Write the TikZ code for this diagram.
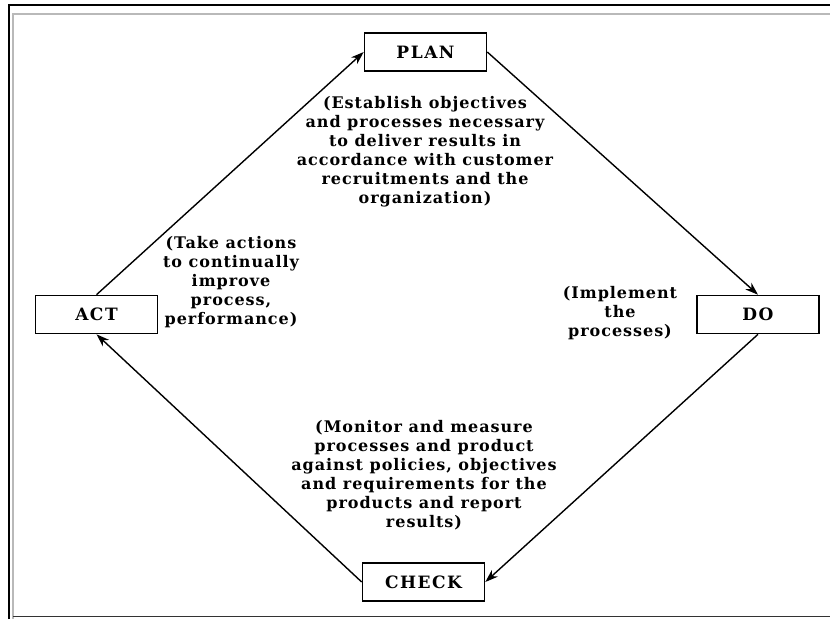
\documentclass[tikz,border=0pt]{standalone}
\usepackage{fontspec}
\usetikzlibrary{arrows.meta}
\newfontfamily\bodyfont[LetterSpace=6]{DejaVu Serif}
\newfontfamily\labelfont[LetterSpace=9]{DejaVu Serif}
\begin{document}
\begin{tikzpicture}[x=1pt,y=-1pt,
  stagebox/.style={draw,line width=1.6pt,minimum width=122pt,minimum height=38pt,
    inner sep=0pt,font=\labelfont\bfseries\fontsize{17}{17}\selectfont},
  note/.style={align=center,inner sep=0pt,
    font=\bodyfont\bfseries\fontsize{16}{19}\selectfont},
  flow/.style={line width=1.4pt,-{Stealth[length=13pt,width=9pt]}}]
\useasboundingbox (0,0) rectangle (830,619);
% page frame
\draw[line width=1.8pt] (9,619) -- (9,5) -- (830,5);
\draw[line width=1.6pt,gray!55] (13,619) -- (13,14) -- (830,14);
\draw[line width=1pt,black!80] (13,616) -- (830,616);
% stages of the cycle
\node[stagebox] (plan)  at (425.5,52)  {PLAN};
\node[stagebox] (act)   at (96.5,314.5) {ACT};
\node[stagebox] (do)    at (758,314.5) {DO};
\node[stagebox] (check) at (423.5,582) {CHECK};
% cycle arrows
\draw[flow] (act.north) -- (plan.west);
\draw[flow] (plan.east) -- (do.north);
\draw[flow] (do.south) -- (check.east);
\draw[flow] (check.west) -- (act.south);
% descriptions
\node[note] (plantext) at (425,152) {(Establish objectives\\and processes necessary\\to deliver results in\\accordance with customer\\recruitments and the\\organization)};
\node[note] (acttext) at (231,282) {(Take actions\\to continually\\improve\\process,\\performance)};
\node[note] (dotext) at (620,313) {(Implement\\the\\processes)};
\node[note] (checktext) at (424,475.5) {(Monitor and measure\\processes and product\\against policies, objectives\\and requirements for the\\products and report\\results)};
\end{tikzpicture}
\end{document}
